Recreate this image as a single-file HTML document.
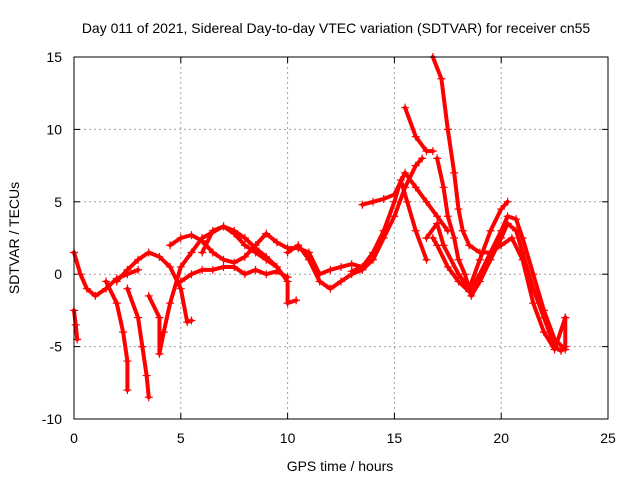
<!DOCTYPE html>
<html><head><meta charset="utf-8"><style>
body{margin:0;background:#fff;}
svg{display:block;font-family:"Liberation Sans",sans-serif;}
</style></head><body>
<svg id="chart" width="640" height="480">
<text x="336" y="33" text-anchor="middle" font-size="14">Day 011 of 2021, Sidereal Day-to-day VTEC variation (SDTVAR) for receiver cn55</text>
<text x="340" y="471" text-anchor="middle" font-size="14">GPS time / hours</text>
<text transform="translate(19,238) rotate(-90)" text-anchor="middle" font-size="14">SDTVAR / TECUs</text>
<g id="grid"></g><g id="ticks"></g><g id="series"></g>
<rect x="74" y="57" width="534" height="362" fill="none" stroke="#000"/>
</svg>
<script>
const xTicks=[0,5,10,15,20,25];
const yTicks=[-10,-5,0,5,10,15];
const trackA=[[0,-2.5],[0.08,-3.5],[0.15,-4.5]];
const trackB=[[0,1.5],[0.3,0],[0.6,-1],[1,-1.5],[1.5,-1],[2,-0.3],[2.5,0],[3,0.3]];
const trackC=[[1.5,-0.5],[2,-2],[2.3,-4],[2.5,-6],[2.5,-8]];
const trackD=[[2.5,-1],[3,-3],[3.2,-5],[3.4,-7],[3.5,-8.5]];
const trackE=[[2,-0.5],[2.5,0.3],[3,1],[3.5,1.5],[4,1.2],[4.5,0.5],[5,-1],[5.3,-3.3],[5.5,-3.2]];
const trackF=[[3.5,-1.5],[4,-3],[4,-5.5],[4.2,-4],[4.5,-2],[5,0.5],[5.5,1.5],[6,2.5],[7,3.3],[7.5,3],[8,2.5],[8.5,1.8],[9,1.2],[9.5,0.5],[10,-0.5],[10,-2],[10.4,-1.8]];
const trackG=[[4.5,2],[5,2.5],[5.5,2.7],[6,2.3],[6.5,1.5],[7,1],[7.5,0.8],[8,1.2],[8.5,2],[9,2.8],[9.5,2.2],[10,1.8],[10.5,1.8],[11,1.5],[11.5,0],[12,0.3],[12.5,0.5],[13,0.7],[13.5,0.5]];
const trackH=[[5,-0.5],[5.5,0],[6,0.3],[6.5,0.3],[7,0.5],[7.5,0.5],[8,0],[8.5,0.3],[9,0],[9.5,0.2],[10,-0.2]];
const trackI=[[6,1.5],[6.5,3],[7,3.3],[7.5,2.8],[8,2],[8.5,1.5],[9,1],[9.5,0.5]];
const trackJ=[[10,1.5],[10.5,2],[11,1],[11.5,-0.5],[12,-1],[12.5,-0.5],[13,0],[13.5,0.3],[14,1],[14.5,2.5],[15,4],[15.5,6],[16,7.5],[16.3,8]];
const trackK=[[13,0.2],[13.5,0.5],[14,1.5],[14.5,3],[15,5],[15.3,6.5],[15.6,5],[16,3],[16.5,1]];
const trackL=[[13.5,4.8],[14,5],[14.5,5.2],[15,5.5],[15.5,7],[16,6],[16.5,5],[17,4],[17.5,3]];
const trackM=[[15.5,11.5],[16,9.5],[16.5,8.5],[16.8,8.5]];
const trackN=[[16.8,15],[17.2,13.5],[17.5,10],[17.8,7],[18,4.5],[18.2,3],[18.5,2],[19,1.5],[19.5,1.5],[20,2],[20.5,2.5],[21,1],[21.5,-2],[22,-4],[22.5,-5.2],[23,-3]];
const trackO=[[17,8],[17.3,6],[17.5,4],[17.8,2.5],[18,1],[18.3,0],[18.6,-1.5],[19,-0.5],[19.5,1],[20,2.5],[20.3,3.5],[20.7,3],[21,1.5],[21.5,-1],[22,-3],[22.5,-5],[22.8,-5.3],[23,-5]];
const trackP=[[16.8,2.5],[17,2],[17.5,0.5],[18,-0.5],[18.5,-1.2],[19,0],[19.5,1.5],[20,3],[20.3,4],[20.7,3.8],[21,2.5],[21.5,0],[22,-2.5],[22.5,-4.5],[23,-5.2],[23,-3]];
const trackQ=[[16.5,2.5],[17,3.5],[17.3,2],[18,0],[18.5,-1],[19,1],[19.5,3],[20,4.5],[20.3,5]];
const tracks=[trackA,trackB,trackC,trackD,trackE,trackF,trackG,trackH,trackI,trackJ,trackK,trackL,trackM,trackN,trackO,trackP,trackQ];

const NS="http://www.w3.org/2000/svg";
const X0=74,X1=608,Y0=419,Y1=57;
const sx=v=>X0+(v-0)/(25-0)*(X1-X0);
const sy=v=>Y0-(v+10)/(15+10)*(Y0-Y1);
const grid=document.getElementById('grid'),ticks=document.getElementById('ticks'),ser=document.getElementById('series');
function mk(tag,attrs,parent){const e=document.createElementNS(NS,tag);for(const k in attrs)e.setAttribute(k,attrs[k]);parent.appendChild(e);return e;}
xTicks.forEach(t=>{
  const x=sx(t);
  if(t>0&&t<25){const g=mk('line',{x1:x,x2:x,y1:Y0,y2:Y1,stroke:'#a0a0a0','stroke-dasharray':'2,3'},grid);
  
  }
  mk('line',{x1:x,x2:x,y1:Y0,y2:Y0-6,stroke:'#000'},ticks);
  mk('line',{x1:x,x2:x,y1:Y1,y2:Y1+6,stroke:'#000'},ticks);
  const l=mk('text',{x:x,y:Y0+24,'text-anchor':'middle','font-size':14},ticks);l.textContent=t;
  
  
});
yTicks.forEach(t=>{
  const y=sy(t);
  if(t>-10&&t<15){const g=mk('line',{x1:X0,x2:X1,y1:y,y2:y,stroke:'#a0a0a0','stroke-dasharray':'2,3'},grid);
  
  }
  mk('line',{x1:X0,x2:X0+6,y1:y,y2:y,stroke:'#000'},ticks);
  mk('line',{x1:X1,x2:X1-6,y1:y,y2:y,stroke:'#000'},ticks);
  const l=mk('text',{x:X0-12,y:y+5,'text-anchor':'end','font-size':14},ticks);l.textContent=t;
  
  
});
tracks.forEach((tr,i)=>{
  const p=mk('polyline',{points:tr.map(d=>sx(d[0])+','+sy(d[1])).join(' '),fill:'none',stroke:'#ff0000','stroke-width':4,'stroke-linejoin':'round','stroke-linecap':'round'},ser);
  
  
  tr.forEach(d=>{
    const x=sx(d[0]),y=sy(d[1]);
    const m=mk('path',{d:`M${x-4},${y}H${x+4}M${x},${y-4}V${y+4}`,stroke:'#ff0000','stroke-width':1.2},ser);
    
    
  });
});
</script>
</body></html>
